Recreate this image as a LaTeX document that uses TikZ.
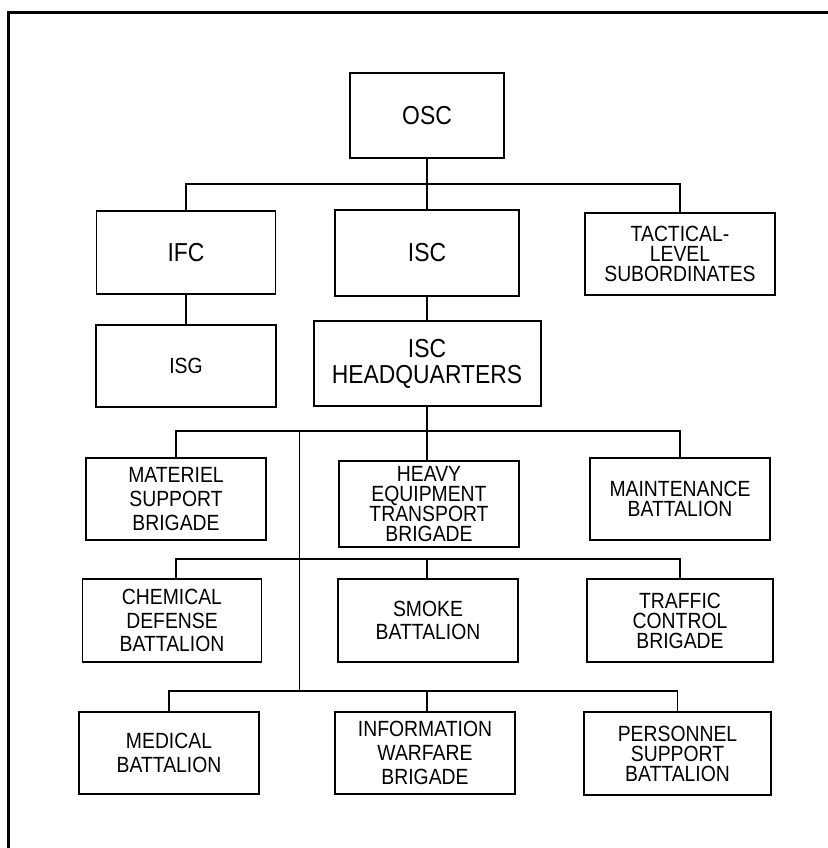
\documentclass[tikz,border=0pt]{standalone}
\usepackage{fontspec}
\setmainfont{Liberation Sans}[FakeStretch=0.88]
\begin{document}
\begin{tikzpicture}[x=0.5pt,y=-0.5pt,
    unitbox/.style={draw, rectangle, inner sep=0pt, align=center, line width=0.6pt,
        font=\fontsize{11}{11.8}\selectfont},
    heavybox/.style={unitbox, line width=1pt, font=\fontsize{11}{10}\selectfont},
    bigtext/.style={font=\fontsize{13}{13}\selectfont},
    wire/.style={line width=0.6pt}]
        \useasboundingbox (0,0) rectangle (828,848);
        \draw[line width=1.5pt] (8.5,848) -- (8.5,12.5) -- (828,12.5);

        \node[heavybox, bigtext, minimum width=77pt, minimum height=42.5pt] (osc) at (427,115.5) {OSC};
        \node[unitbox, bigtext, minimum width=89.5pt, minimum height=41.5pt] (ifc) at (186,252.5) {IFC};
        \node[heavybox, bigtext, minimum width=92pt, minimum height=43pt] (isc) at (427,253) {ISC};
        \node[heavybox, minimum width=95pt, minimum height=41pt] (tact) at (680,254) {TACTICAL-\\LEVEL\\SUBORDINATES};

        \node[unitbox, minimum width=90pt, minimum height=41pt] (isg) at (186,366) {ISG};
        \node[heavybox, bigtext, minimum width=113.5pt, minimum height=42.5pt] (hq) at (427,363.5) {ISC\\HEADQUARTERS};

        \node[unitbox, minimum width=90pt, minimum height=41pt] (mat) at (176,499) {MATERIEL\\SUPPORT\\BRIGADE};
        \node[heavybox, minimum width=90pt, minimum height=43pt] (heavy) at (429,504) {HEAVY\\EQUIPMENT\\TRANSPORT\\BRIGADE};
        \node[heavybox, minimum width=90pt, minimum height=41pt] (maint) at (680,499) {MAINTENANCE\\BATTALION};

        \node[unitbox, minimum width=89.5pt, minimum height=41.5pt] (chem) at (172,620.5) {CHEMICAL\\DEFENSE\\BATTALION};
        \node[unitbox, minimum width=90pt, minimum height=41.5pt] (smoke) at (428,620.5) {SMOKE\\BATTALION};
        \node[heavybox, minimum width=93pt, minimum height=41.5pt] (traffic) at (680,620.5) {TRAFFIC\\CONTROL\\BRIGADE};

        \node[unitbox, minimum width=90pt, minimum height=41pt] (med) at (169,753) {MEDICAL\\BATTALION};
        \node[unitbox, minimum width=90pt, minimum height=41pt] (info) at (425,753) {INFORMATION\\WARFARE\\BRIGADE};
        \node[heavybox, minimum width=93.5pt, minimum height=41.5pt] (pers) at (677.5,753.5) {PERSONNEL\\SUPPORT\\BATTALION};

        \coordinate (bus1) at (427,184);
        \coordinate (spinetop) at (299.5,431);
        \coordinate (spinemid) at (299.5,559);
        \coordinate (spinebot) at (299.5,691);

        \draw[wire] (osc) -- (isc);
        \draw[wire] (ifc.north) |- (bus1) -| (tact.north);
        \draw[wire] (ifc) -- (isg);
        \draw[wire] (isc) -- (hq);

        \draw[wire] (hq.south) -- (hq.south |- spinetop);
        \draw[wire] (mat.north) |- (spinetop) -| (maint.north);
        \draw[wire] (heavy.north -| hq.south) -- (hq.south |- spinetop);
        \draw[wire] (spinetop) -- (spinebot);

        \draw[wire] (chem.north -| mat.north) |- (spinemid) -| (traffic.north);
        \draw[wire] (smoke.north -| hq.south) -- (hq.south |- spinemid);

        \draw[wire] (med.north) |- (spinebot) -| (pers.north);
        \draw[wire] (info.north -| hq.south) -- (hq.south |- spinebot);
    \end{tikzpicture}
\end{document}
